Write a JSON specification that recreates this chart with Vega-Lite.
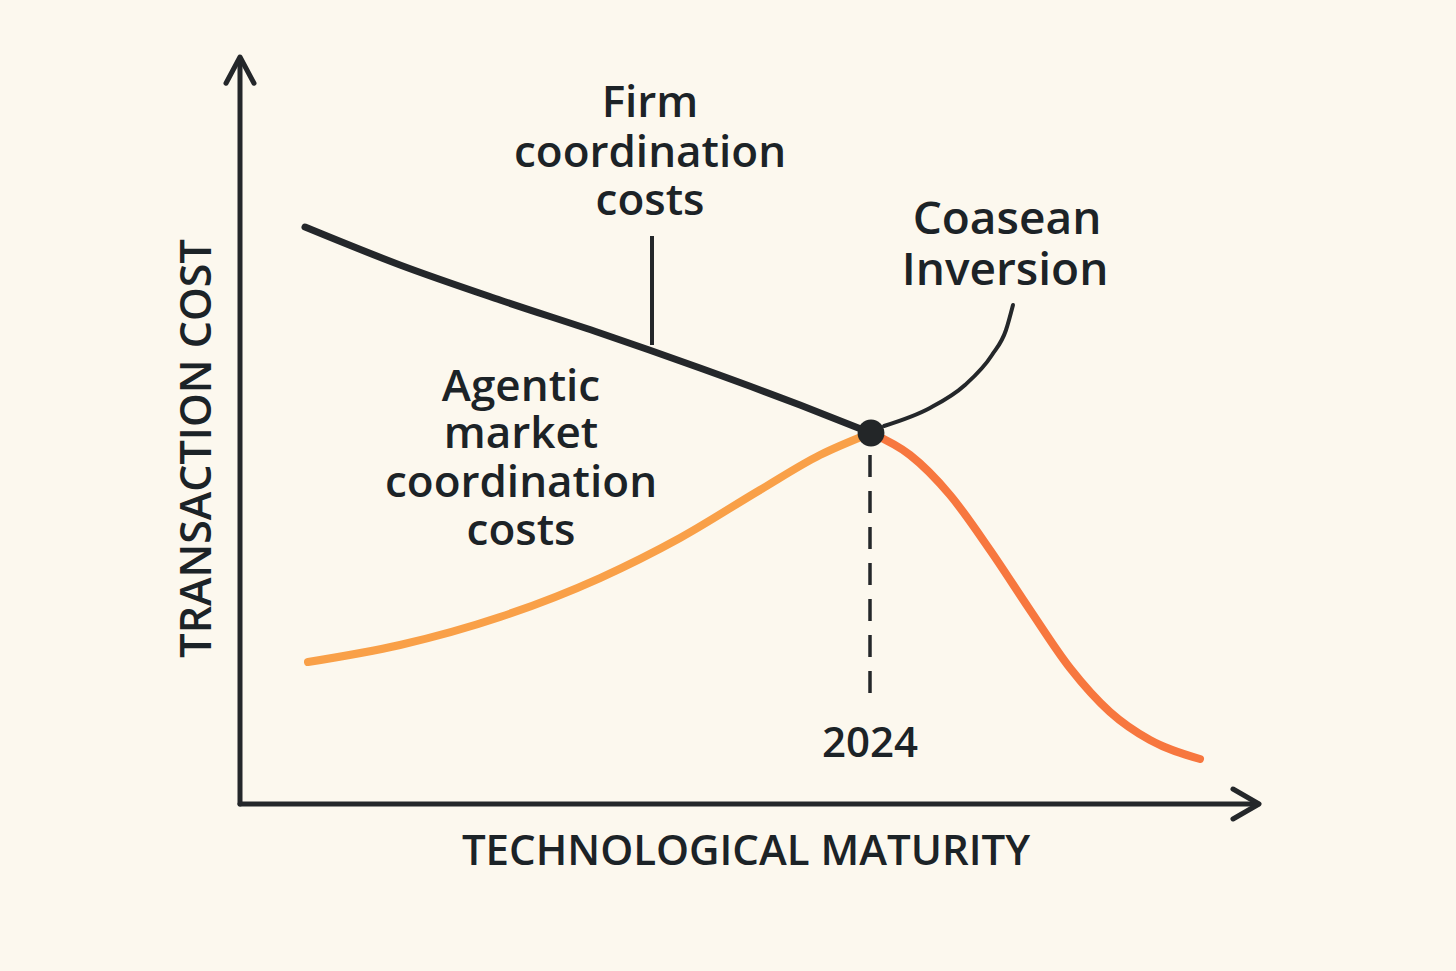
{
  "$schema": "https://vega.github.io/schema/vega-lite/v6.json",
  "width": 1456,
  "height": 971,
  "autosize": {"type": "fit", "contains": "padding"},
  "padding": 0,
  "background": "#FCF8EE",
  "config": {"view": {"stroke": null}},
  "datasets": {
    "axes": [
      {"part": "yaxis", "order": 1, "x": 0, "y": 0},
      {"part": "yaxis", "order": 2, "x": 0, "y": 99.4},
      {"part": "yhead", "order": 1, "x": -1.4, "y": 96.1},
      {"part": "yhead", "order": 2, "x": 0, "y": 99.6},
      {"part": "yhead", "order": 3, "x": 1.4, "y": 96.1},
      {"part": "xaxis", "order": 1, "x": 0, "y": 0},
      {"part": "xaxis", "order": 2, "x": 101.8, "y": 0},
      {"part": "xhead", "order": 1, "x": 99.3, "y": 2},
      {"part": "xhead", "order": 2, "x": 101.9, "y": 0},
      {"part": "xhead", "order": 3, "x": 99.3, "y": -2}
    ],
    "firm": [
      {"x": 6.5, "y": 76.93},
      {"x": 16, "y": 71.87},
      {"x": 26, "y": 67.2},
      {"x": 36, "y": 62.8},
      {"x": 46, "y": 58.13},
      {"x": 56, "y": 53.2},
      {"x": 63.1, "y": 49.47}
    ],
    "agenticRise": [
      {"x": 6.8, "y": 18.93},
      {"x": 16, "y": 21.2},
      {"x": 26, "y": 24.93},
      {"x": 36, "y": 30.13},
      {"x": 44, "y": 35.47},
      {"x": 52, "y": 41.87},
      {"x": 58, "y": 46.53},
      {"x": 63.1, "y": 49.47}
    ],
    "agenticFall": [
      {"x": 63.1, "y": 49.47},
      {"x": 67, "y": 46.53},
      {"x": 71, "y": 41.2},
      {"x": 75, "y": 33.87},
      {"x": 79, "y": 25.87},
      {"x": 83, "y": 18.13},
      {"x": 87, "y": 12.27},
      {"x": 91, "y": 8.53},
      {"x": 96, "y": 6}
    ],
    "leaderFirm": [
      {"x": 41.2, "y": 75.73},
      {"x": 41.2, "y": 61.2}
    ],
    "leaderCoase": [
      {"x": 64.4, "y": 50.4},
      {"x": 69, "y": 52.8},
      {"x": 72.5, "y": 55.87},
      {"x": 75.2, "y": 59.87},
      {"x": 76.6, "y": 63.2},
      {"x": 77.3, "y": 66.53}
    ],
    "dashed": [
      {"x": 63, "y": 46.53},
      {"x": 63, "y": 13.2}
    ],
    "crossing": [{"x": 63.1, "y": 49.47}],
    "labels": [
      {"group": "firm", "x": 41, "y": 93.3, "label": "Firm"},
      {"group": "firm", "x": 41, "y": 86.7, "label": "coordination"},
      {"group": "firm", "x": 41, "y": 80.3, "label": "costs"},
      {"group": "coase", "x": 76.7, "y": 77.9, "label": "Coasean"},
      {"group": "coase", "x": 76.5, "y": 71.0, "label": "Inversion"},
      {"group": "agentic", "x": 28.1, "y": 55.5, "label": "Agentic"},
      {"group": "agentic", "x": 28.1, "y": 49.2, "label": "market"},
      {"group": "agentic", "x": 28.1, "y": 42.6, "label": "coordination"},
      {"group": "agentic", "x": 28.1, "y": 36.2, "label": "costs"},
      {"group": "year", "x": 63, "y": 8.0, "label": "2024"},
      {"group": "xtitle", "x": 50.6, "y": -6.4, "label": "TECHNOLOGICAL MATURITY"},
      {"group": "ytitle", "x": -4.2, "y": 47.4, "label": "TRANSACTION COST"}
    ]
  },
  "encoding": {
    "x": {"field": "x", "type": "quantitative", "scale": {"domain": [-24, 121.6], "nice": false, "zero": false}, "axis": null},
    "y": {"field": "y", "type": "quantitative", "scale": {"domain": [-22.267, 107.2], "nice": false, "zero": false}, "axis": null}
  },
  "layer": [
    {
      "data": {"name": "axes"},
      "mark": {"type": "line", "color": "#24272A", "strokeWidth": 5, "strokeCap": "round", "strokeJoin": "round"},
      "encoding": {"detail": {"field": "part"}, "order": {"field": "order"}}
    },
    {
      "data": {"name": "firm"},
      "mark": {"type": "line", "color": "#24272A", "strokeWidth": 7, "strokeCap": "round", "interpolate": "monotone"},
      "encoding": {}
    },
    {
      "data": {"name": "agenticRise"},
      "mark": {"type": "line", "color": "#F9A048", "strokeWidth": 8, "strokeCap": "round", "interpolate": "monotone"},
      "encoding": {}
    },
    {
      "data": {"name": "agenticFall"},
      "mark": {"type": "line", "color": "#F7773F", "strokeWidth": 8, "strokeCap": "round", "interpolate": "monotone"},
      "encoding": {}
    },
    {
      "data": {"name": "leaderFirm"},
      "mark": {"type": "line", "color": "#24272A", "strokeWidth": 4, "strokeCap": "butt"},
      "encoding": {}
    },
    {
      "data": {"name": "leaderCoase"},
      "mark": {"type": "line", "color": "#24272A", "strokeWidth": 4, "strokeCap": "round", "interpolate": "monotone"},
      "encoding": {}
    },
    {
      "data": {"name": "dashed"},
      "mark": {"type": "line", "color": "#24272A", "strokeWidth": 3.5, "strokeDash": [22, 14], "strokeCap": "butt"},
      "encoding": {}
    },
    {
      "data": {"name": "crossing"},
      "mark": {"type": "point", "filled": true, "color": "#232628", "opacity": 1, "size": 720}
    },
    {
      "data": {"name": "labels"},
      "transform": [{"filter": "datum.group === 'firm' || datum.group === 'agentic'"}],
      "mark": {"type": "text", "font": "Open Sans", "fontSize": 44, "fontWeight": 600, "color": "#1C2327", "align": "center", "baseline": "middle"},
      "encoding": {"text": {"field": "label"}}
    },
    {
      "data": {"name": "labels"},
      "transform": [{"filter": "datum.group === 'coase'"}],
      "mark": {"type": "text", "font": "Open Sans", "fontSize": 46, "fontWeight": 600, "color": "#1C2327", "align": "center", "baseline": "middle"},
      "encoding": {"text": {"field": "label"}}
    },
    {
      "data": {"name": "labels"},
      "transform": [{"filter": "datum.group === 'year' || datum.group === 'xtitle'"}],
      "mark": {"type": "text", "font": "Open Sans", "fontSize": 42, "fontWeight": 600, "color": "#1C2327", "align": "center", "baseline": "middle"},
      "encoding": {"text": {"field": "label"}}
    },
    {
      "data": {"name": "labels"},
      "transform": [{"filter": "datum.group === 'ytitle'"}],
      "mark": {"type": "text", "font": "Open Sans", "fontSize": 43, "fontWeight": 600, "color": "#1C2327", "align": "center", "baseline": "middle", "angle": 270},
      "encoding": {"text": {"field": "label"}}
    }
  ]
}
